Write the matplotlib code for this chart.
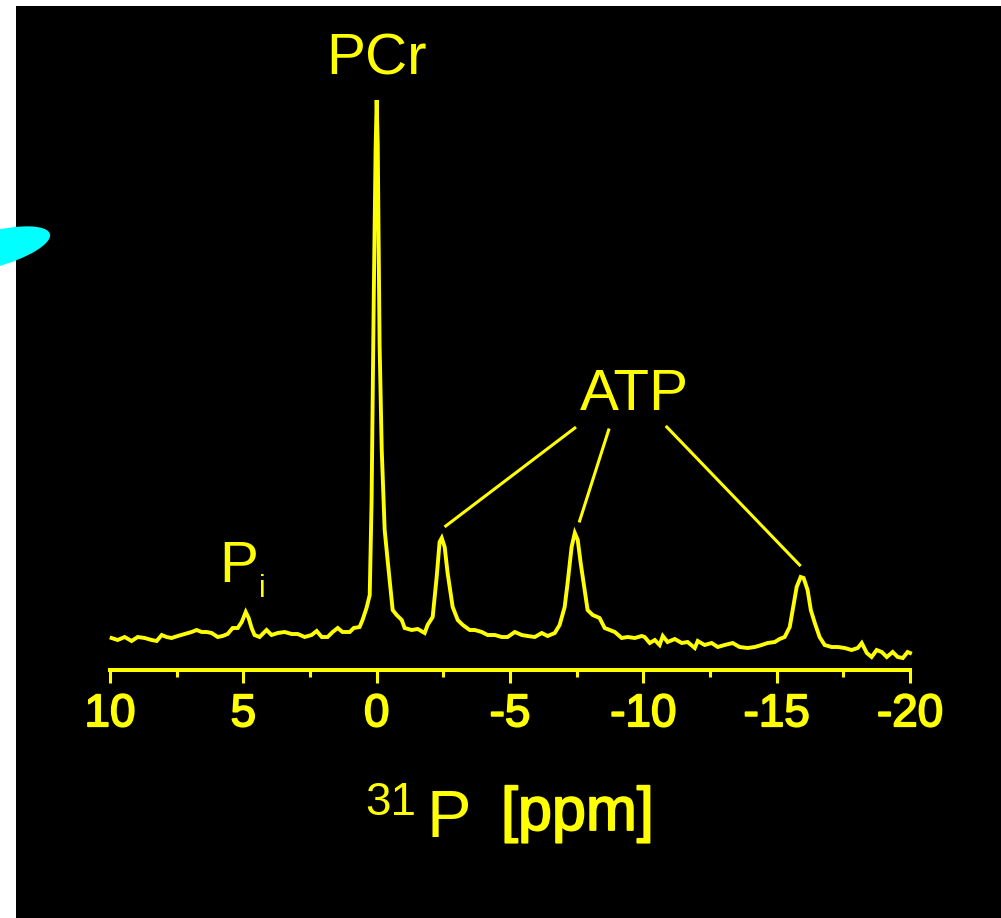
import numpy as np
import matplotlib
matplotlib.use("Agg")
import matplotlib.pyplot as plt
import matplotlib.patheffects as pe
from matplotlib.patches import Rectangle, Ellipse
from matplotlib.transforms import IdentityTransform

# 31P spectrum, chemical shift (ppm) and signal (a.u.)
shift = [9.94, 9.71, 9.45, 9.19, 8.96, 8.70, 8.44, 8.25, 8.06, 7.88, 7.69, 7.46,
         7.20, 6.94, 6.75, 6.56, 6.38, 6.19, 5.96, 5.78, 5.59, 5.40, 5.21, 5.06,
         4.91, 4.80, 4.69, 4.58, 4.39, 4.13, 3.94, 3.71, 3.45, 3.19, 2.96, 2.70,
         2.44, 2.25, 2.06, 1.84, 1.65, 1.46, 1.28, 1.01, 0.86, 0.64, 0.53, 0.38,
         0.26, 0.19, 0.11, 0.04, 0.00, -0.04, -0.08, -0.11, -0.19, -0.30, -0.41,
         -0.60, -0.75, -0.94, -1.05, -1.31, -1.54, -1.80, -1.91, -2.10, -2.25,
         -2.36, -2.44, -2.55, -2.66, -2.85, -3.04, -3.23, -3.49, -3.68, -3.94,
         -4.16, -4.43, -4.69, -4.91, -5.18, -5.44, -5.66, -5.93, -6.19, -6.41,
         -6.68, -6.86, -7.05, -7.16, -7.31, -7.43, -7.54, -7.65, -7.80, -7.91,
         -8.10, -8.36, -8.55, -8.74, -8.93, -9.19, -9.41, -9.68, -9.94, -10.05,
         -10.24, -10.43, -10.61, -10.73, -10.91, -11.18, -11.44, -11.66, -11.93,
         -12.04, -12.30, -12.56, -12.79, -13.05, -13.35, -13.61, -13.91, -14.18,
         -14.44, -14.66, -14.93, -15.11, -15.30, -15.49, -15.60, -15.75, -15.90,
         -16.01, -16.16, -16.28, -16.43, -16.61, -16.80, -17.06, -17.29, -17.55,
         -17.81, -18.04, -18.19, -18.38, -18.56, -18.75, -18.94, -19.13, -19.35,
         -19.54, -19.73, -19.91, -20.00]
signal = [7, 5, 8, 4, 8, 7, 5, 4, 10, 8, 7, 9,
          11, 13, 15, 13, 13, 12, 8, 9, 11, 17, 17, 23,
          33, 27, 17, 10, 8, 15, 10, 12, 13, 11, 11, 8,
          10, 14, 8, 8, 13, 17, 13, 13, 17, 18, 25, 37,
          50, 145, 345, 495, 545, 500, 380, 300, 195, 115, 85,
          35, 30, 25, 17, 15, 16, 12, 20, 28, 68,
          103, 107, 98, 72, 38, 25, 20, 15, 15, 13,
          10, 10, 8, 8, 13, 10, 9, 8, 12, 9,
          12, 20, 38, 62, 98, 112, 105, 82, 55, 35,
          30, 27, 17, 15, 13, 7, 8, 7, 9, 8,
          2, 5, 0, 9, 3, 6, 2, 3, -3,
          4, 0, 2, -2, 0, 2, -2, -3, -2,
          0, 2, 3, 6, 8, 18, 35, 58, 68,
          67, 55, 35, 22, 8, 0, -2, -2, -3,
          -5, -3, 2, -8, -12, -5, -7, -12, -7,
          -12, -13, -7, -8]

# peak labels
pcr_shift, pcr_height = 0.0, 545
pi_shift, pi_height = 4.91, 33
atp_shift = [-2.44, -7.43, -15.90]
atp_height = [107, 112, 68]

W, H = 1001, 918
yellow = "#ffff00"
thick = [pe.withStroke(linewidth=1.3, foreground=yellow)]

plt.rcParams["font.family"] = ["Liberation Sans", "DejaVu Sans"]
plt.rcParams["axes.unicode_minus"] = False

fig = plt.figure(figsize=(W / 100, H / 100), dpi=100, facecolor="white")

# black panel with a thin white margin on the left and top
fig.add_artist(Rectangle((16 / W, 0), 1 - 16 / W, 1 - 6 / H, transform=fig.transFigure,
                         facecolor="black", edgecolor="none", zorder=0))
fig.add_artist(Ellipse((-10, H - 250), 124, 36, angle=15, transform=IdentityTransform(),
                       facecolor="#00ffff", edgecolor="none", zorder=1))

ax = fig.add_axes([110 / W, (H - 670) / H, 800 / W, 570 / H])
ax.set_facecolor("none")
ax.plot(shift, signal, color=yellow, lw=2.8, clip_on=False, solid_joinstyle="miter")
ax.set_xlim(10, -20)
ax.set_ylim(-25, 545)

for s in ["left", "top", "right"]:
    ax.spines[s].set_visible(False)
ax.spines["bottom"].set_color(yellow)
ax.spines["bottom"].set_linewidth(2.9)
ax.set_yticks([])
ax.set_xticks([10, 5, 0, -5, -10, -15, -20])
ax.set_xticks(np.arange(7.5, -20, -5), minor=True)
ax.tick_params(axis="x", which="major", direction="out", length=9, width=2.2,
               color=yellow, labelcolor=yellow, labelsize=33, pad=7)
ax.tick_params(axis="x", which="minor", direction="out", length=5, width=2.2, color=yellow)
for lab in ax.get_xticklabels():
    lab.set_path_effects(thick)

# peak names
ax.text(pcr_shift, pcr_height + 25, "PCr", color=yellow, fontsize=42,
        ha="center", va="baseline")
ax.text(pi_shift + 0.27, pi_height + 30, "P", color=yellow, fontsize=42,
        ha="center", va="baseline")
ax.text(pi_shift - 0.48, pi_height + 15, "i", color=yellow, fontsize=22,
        ha="left", va="baseline")
ax.text(-9.68, 235, "ATP", color=yellow, fontsize=42, ha="center", va="baseline")

# leader lines from the ATP label to its three peaks
starts = [(-7.43, 217), (-8.70, 215), (-10.88, 218)]
offsets = [-0.15, -0.18, 0.04]
for (sx, sy), px, py, dx in zip(starts, atp_shift, atp_height, offsets):
    ax.plot([sx, px + dx], [sy, py + 12], color=yellow, lw=2.2, clip_on=False)

# axis title
fig.text(365 / W, 1 - 815 / H, "31", color=yellow, fontsize=33, ha="left", va="baseline")
fig.text(427 / W, 1 - 837 / H, "P", color=yellow, fontsize=48, ha="left", va="baseline")
fig.text(501 / W, 1 - 830 / H, "[ppm]", color=yellow, fontsize=44,
         ha="left", va="baseline", path_effects=thick)

plt.savefig("out.png", dpi=100, facecolor=fig.get_facecolor())
